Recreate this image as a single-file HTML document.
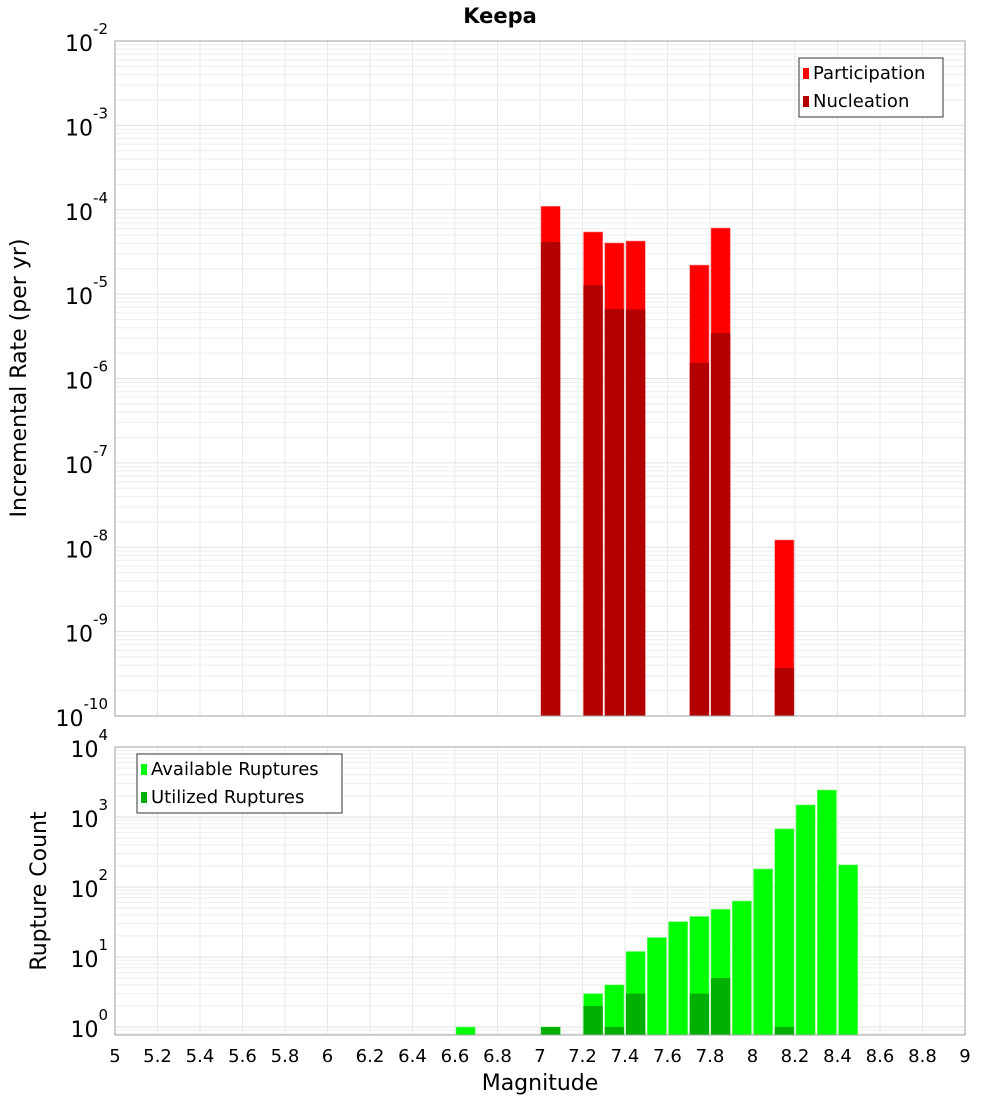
<!DOCTYPE html>
<html><head><meta charset="utf-8"><style>
body{margin:0;background:#fff;font-family:"Liberation Sans","DejaVu Sans",sans-serif}
svg text{font-family:"DejaVu Sans","Liberation Sans",sans-serif}
</style></head><body>
<svg id="c" width="1000" height="1100" xmlns="http://www.w3.org/2000/svg"></svg>
<script>
const topMags=[7.05,7.25,7.35,7.45,7.75,7.85,8.15];
const participation=[1.1e-4,5.45e-5,4.04e-5,4.26e-5,2.21e-5,6.08e-5,1.22e-8];
const nucleation=[4.15e-5,1.28e-5,6.67e-6,6.6e-6,1.53e-6,3.46e-6,3.7e-10];
const botMags=[6.65,7.05,7.25,7.35,7.45,7.55,7.65,7.75,7.85,7.95,8.05,8.15,8.25,8.35,8.45];
const available=[1,1,3,4,12,19,32,38,48,63,181,676,1486,2430,207];
const utilized=[0,1,2,1,3,0,0,3,5,0,0,1,0,0,0];
const xTicks=["5","5.2","5.4","5.6","5.8","6","6.2","6.4","6.6","6.8","7","7.2","7.4","7.6","7.8","8","8.2","8.4","8.6","8.8","9"];
const topExp=[-2,-3,-4,-5,-6,-7,-8,-9,-10];
const botExp=[4,3,2,1,0];

const NS="http://www.w3.org/2000/svg";
const svg=document.getElementById('c');
function mk(t,a,p){const e=document.createElementNS(NS,t);for(const k in a)e.setAttribute(k,a[k]);(p||svg).appendChild(e);return e;}
const X0=115,X1=965;
const xs=m=>X0+(m-5)/4*(X1-X0);
const T={top:41,bot:716,lmin:-10,lmax:-2};
const B={top:747,bot:1035,lmin:-8/70,lmax:4};
function ys(P,v){return P.bot-(Math.log10(v)-P.lmin)/(P.lmax-P.lmin)*(P.bot-P.top);}

function grid(P,name){
  const g=mk('g',{});
  
  
  for(let i=0;i<=20;i++){const x=xs(5+i*0.2);mk('line',{x1:x,x2:x,y1:P.top,y2:P.bot,stroke:'#e8e8e8','stroke-width':1},g);}
  for(let d=Math.floor(P.lmin);d<P.lmax;d++){for(let k=1;k<10;k++){const v=k*Math.pow(10,d);const l=Math.log10(v);if(l<P.lmin||l>P.lmax)continue;const y=ys(P,v);mk('line',{x1:X0,x2:X1,y1:y,y2:y,stroke:k==1?'#e0e0e0':'#eeeeee','stroke-width':1},g);}}
}
grid(T,'top');grid(B,'bottom');

// top bars
const bw=(xs(5.1)-xs(5));
topMags.forEach((m,i)=>{
  const x=xs(m)-bw/2+1;
  let r=mk('rect',{x:x,y:ys(T,participation[i]),width:bw-2,height:T.bot-ys(T,participation[i]),fill:'#ff0000',stroke:'#ff8080','stroke-width':0.6});
  
  
  r=mk('rect',{x:x,y:ys(T,nucleation[i]),width:bw-2,height:T.bot-ys(T,nucleation[i]),fill:'#b30000'});
  
  
});
botMags.forEach((m,i)=>{
  const x=xs(m)-bw/2+1;
  let r=mk('rect',{x:x,y:ys(B,available[i]),width:bw-2,height:B.bot-ys(B,available[i]),fill:'#00ff00',stroke:'#80ff80','stroke-width':0.6});
  
  
  if(utilized[i]>0){
  r=mk('rect',{x:x,y:ys(B,utilized[i]),width:bw-2,height:B.bot-ys(B,utilized[i]),fill:'#00b000'});
  
  }
});
// frames
[T,B].forEach((P,j)=>{const f=mk('rect',{x:X0,y:P.top,width:X1-X0,height:P.bot-P.top,fill:'none',stroke:'#a0a0a0','stroke-width':1});

});

function expLabel(P,e,name){
  const y=ys(P,Math.pow(10,e));
  const t=mk('text',{x:108,y:y+10,'text-anchor':'end','font-size':22,fill:'#000'});
  
  
  const s1=mk('tspan',{},t);s1.textContent='10';
  const s2=mk('tspan',{dy:-17,'font-size':15},t);s2.textContent=String(e);
}
topExp.forEach(e=>expLabel(T,e,'top-y-tick-label'));
botExp.forEach(e=>expLabel(B,e,'bottom-y-tick-label'));
xTicks.forEach(s=>{const t=mk('text',{x:xs(parseFloat(s)),y:1062,'text-anchor':'middle','font-size':18,fill:'#000'});


t.textContent=s;});

function txt(a,s,name){const t=mk('text',a);t.textContent=s;return t;}
txt({x:500,y:23,'text-anchor':'middle','font-size':21,'font-weight':'bold'},'Keepa','chart-title');
txt({x:540,y:1090,'text-anchor':'middle','font-size':22},'Magnitude','x-axis-title');
txt({x:26,y:378,'text-anchor':'middle','font-size':22,transform:'rotate(-90 26 378)'},'Incremental Rate (per yr)','top-y-axis-title');
txt({x:46,y:891,'text-anchor':'middle','font-size':22,transform:'rotate(-90 46 891)'},'Rupture Count','bottom-y-axis-title');

function legend(x,y,w,items,name){
  const g=mk('g',{});
  
  
  mk('rect',{x:x,y:y,width:w,height:59,fill:'#fff',stroke:'#333','stroke-width':1},g);
  items.forEach((it,i)=>{
    mk('rect',{x:x+4,y:y+10+i*28,width:6,height:11,fill:it[1]},g);
    const t=mk('text',{x:x+14,y:y+21+i*28,'font-size':18},g);t.textContent=it[0];
  });
}
legend(799,58,144,[['Participation','#ff0000'],['Nucleation','#b30000']],'top-legend');
legend(137,754,205,[['Available Ruptures','#00ff00'],['Utilized Ruptures','#00b000']],'bottom-legend');
</script>
</body></html>
